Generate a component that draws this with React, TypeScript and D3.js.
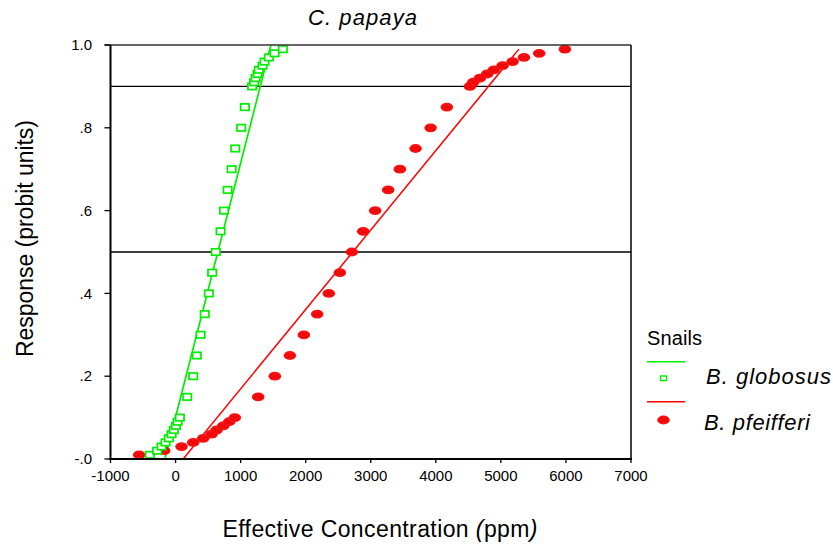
import * as d3 from "d3";

// ─── Data ────────────────────────────────────────────────────────────────────

const responseLevels = [
  0.01, 0.02, 0.03, 0.04, 0.05, 0.06, 0.07, 0.08, 0.09, 0.1,
  0.15, 0.2, 0.25, 0.3, 0.35, 0.4, 0.45, 0.5, 0.55, 0.6, 0.65, 0.7, 0.75, 0.8, 0.85,
  0.9, 0.91, 0.92, 0.93, 0.94, 0.95, 0.96, 0.97, 0.98, 0.99,
];

const globosusDose = [
  -395, -283, -215, -154, -103, -61, -26, 5, 31, 66,
  179, 271, 327, 385, 448, 512, 563, 619, 692, 745, 800, 861, 917, 1008, 1065,
  1177, 1208, 1230, 1260, 1280, 1337, 1368, 1434, 1522, 1649,
];

const pfeifferiDose = [
  -560, -175, 92, 271, 424, 553, 630, 732, 824, 911,
  1270, 1526, 1757, 1972, 2177, 2356, 2525, 2710, 2884, 3068, 3268, 3448, 3689, 3920, 4170,
  4524, 4574, 4677, 4790, 4892, 5026, 5180, 5354, 5589, 5984,
];

// fit lines: [dose, response] end points
const globosusFit: [number, number][] = [[-165, 0], [1465, 1]];
const pfeifferiFit: [number, number][] = [[117, 0], [5277, 0.99]];

const xTicks = [-1000, 0, 1000, 2000, 3000, 4000, 5000, 6000, 7000];
const yTicks = [0, 0.2, 0.4, 0.6, 0.8, 1];
const yTickLabels = ["-.0", ".2", ".4", ".6", ".8", "1.0"];
const refLines = [0.5, 0.9];

const GREEN = "#00ee00";
const RED = "#ff0000";
const FONT = "'Liberation Sans', Arial, Helvetica, sans-serif";

// ─── Layout ──────────────────────────────────────────────────────────────────

const W = 833;
const H = 548;
const X0 = 110.5;
const X1 = 631;
const Y0 = 459;
const Y1 = 45;

function Square({ x, y }: { x: number; y: number }) {
  return (
    <rect x={x - 4.2} y={y - 3.2} width={8.4} height={6.4}
      fill="white" stroke={GREEN} strokeWidth={1.7} />
  );
}

function Blob({ x, y }: { x: number; y: number }) {
  return (
    <g transform={`translate(${x},${y})`}>
      <ellipse rx={6.3} ry={4.4} fill="#ff1010" />
      <circle cx={-2.4} cy={0.3} r={1.8} fill="none" stroke="#d00000" strokeWidth={0.7} />
      <circle cx={2.4} cy={0.3} r={1.8} fill="none" stroke="#d00000" strokeWidth={0.7} />
    </g>
  );
}

export default function App() {
  const x = d3.scaleLinear().domain([-1000, 7000]).range([X0, X1]);
  const y = d3.scaleLinear().domain([0, 1]).range([Y0, Y1]);
  const line = d3.line<[number, number]>().x((d) => x(d[0])).y((d) => y(d[1]));

  return (
    <svg width={W} height={H} style={{ position: "absolute", left: 0, top: 0 }}
      fontFamily={FONT}>
      <rect width={W} height={H} fill="white" />
      <defs>
        <clipPath id="plot">
          <rect x={X0} y={Y1} width={X1 - X0} height={Y0 - Y1} />
        </clipPath>
      </defs>

      {/* reference lines */}
      {refLines.map((r) => (
        <line key={r} x1={X0} x2={X1} y1={y(r)} y2={y(r)} stroke="#000" strokeWidth={1.3} />
      ))}

      {/* fit lines */}
      <g clipPath="url(#plot)">
        <path d={line(globosusFit) ?? ""} stroke={GREEN} strokeWidth={1.7} fill="none" />
        <path d={line(pfeifferiFit) ?? ""} stroke={RED} strokeWidth={1.5} fill="none" />
      </g>

      {/* points */}
      {pfeifferiDose.map((d, i) => (
        <Blob key={`p${i}`} x={x(d)} y={y(responseLevels[i])} />
      ))}
      {globosusDose.map((d, i) => (
        <Square key={`g${i}`} x={x(d)} y={y(responseLevels[i])} />
      ))}

      {/* frame */}
      <line x1={X0 - 6} x2={X1} y1={Y1} y2={Y1} stroke="#333" strokeWidth={1.6} />
      <line x1={X1} x2={X1} y1={Y1} y2={Y0} stroke="#000" strokeWidth={1.5} />
      <line x1={X0} x2={X0} y1={Y1} y2={Y0 + 1} stroke="#000" strokeWidth={2} />
      <line x1={X0 - 1} x2={X1 + 1} y1={Y0} y2={Y0} stroke="#000" strokeWidth={2} />

      {/* y axis */}
      {yTicks.map((t, i) => (
        <g key={t}>
          <line x1={X0 - 6} x2={X0} y1={y(t)} y2={y(t)} stroke="#000" strokeWidth={1.3} />
          <text x={92} y={y(t)} dy="0.35em" textAnchor="end" fontSize={15} fill="#000">
            {yTickLabels[i]}
          </text>
        </g>
      ))}

      {/* x axis */}
      {xTicks.map((t) => (
        <g key={t}>
          <line x1={x(t)} x2={x(t)} y1={Y0} y2={Y0 + 4} stroke="#000" strokeWidth={1.3} />
          <text x={x(t)} y={481} textAnchor="middle" fontSize={15} fill="#000">
            {t}
          </text>
        </g>
      ))}

      {/* title + axis labels */}
      <text x={362.5} y={25} textAnchor="middle" fontSize={22} fontStyle="italic"
        textLength={109} lengthAdjust="spacing">
        C. papaya
      </text>
      <text x={380} y={537} textAnchor="middle" fontSize={23}
        textLength={315} lengthAdjust="spacing">
        Effective Concentration <tspan fontStyle="italic">(</tspan>ppm<tspan fontStyle="italic">)</tspan>
      </text>
      <text transform="translate(33,238.5) rotate(-90)" textAnchor="middle" fontSize={23}
        textLength={237} lengthAdjust="spacing">
        Response (probit units)
      </text>

      {/* legend */}
      <text x={647} y={345} fontSize={20} textLength={55} lengthAdjust="spacing">Snails</text>
      <line x1={647} x2={685} y1={361.7} y2={361.7} stroke={GREEN} strokeWidth={1.5} />
      <rect x={660.5} y={376} width={6} height={4.6} fill="white" stroke={GREEN} strokeWidth={1.4} />
      <text x={706} y={384} fontSize={22} fontStyle="italic" textLength={125} lengthAdjust="spacing">
        B. globosus
      </text>
      <line x1={647} x2={685} y1={401.7} y2={401.7} stroke={RED} strokeWidth={1.4} />
      <Blob x={663.5} y={420} />
      <text x={704} y={430} fontSize={22} fontStyle="italic" textLength={106} lengthAdjust="spacing">
        B. pfeifferi
      </text>
    </svg>
  );
}
